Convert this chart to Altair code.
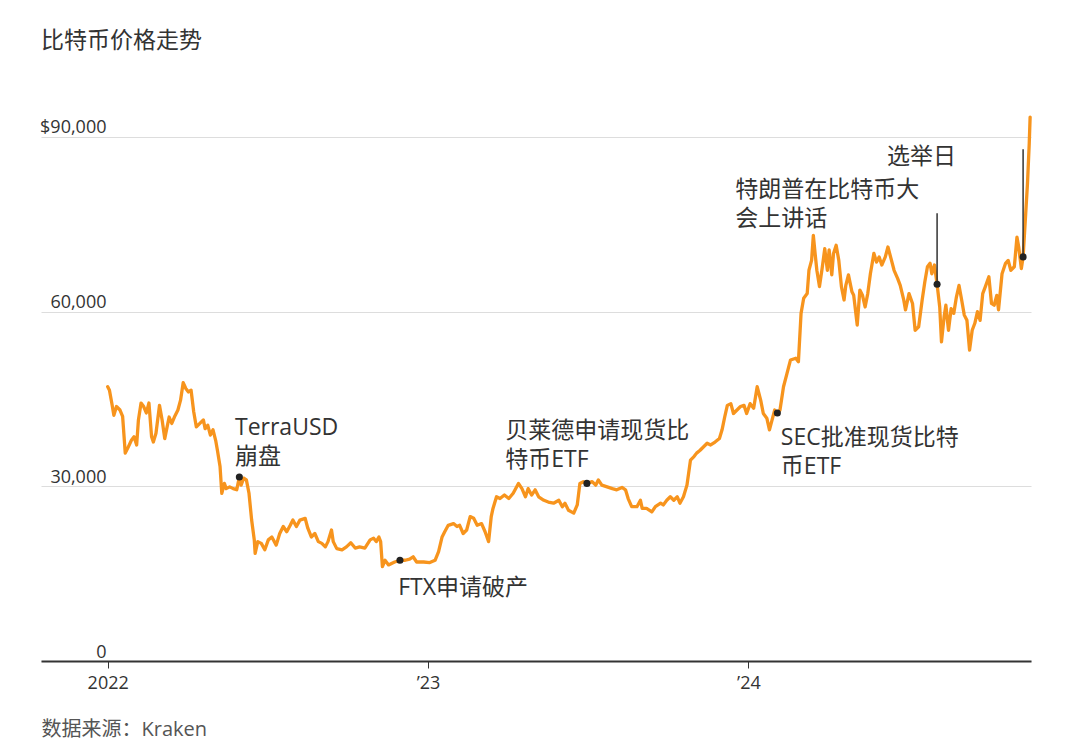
import altair as alt
import pandas as pd

FONT = "Open Sans, Noto Sans CJK SC, sans-serif"

# ---- Bitcoin price series: days after 2022-01-01 and price in USD ----
days_2022a = [0, 2, 5, 7, 10, 14, 17, 20, 23, 27,
              30, 33, 35, 38, 41, 44, 47, 50, 52, 55,
              59, 62, 65, 67, 70, 73, 76, 80, 83, 86,
              89, 92, 95, 98, 101, 105, 109, 111, 114, 117,
              120, 123, 125, 128, 130, 133, 135, 139, 143, 147,
              150, 152, 155, 158, 161, 164, 167, 168, 171, 175,
              179, 183, 187, 192, 196, 200, 204, 208, 211, 215,
              219]
price_2022a = [47100, 46500, 44000, 42200, 43700, 43100, 42000, 35700, 36600, 37900,
               38500, 37100, 41400, 44300, 43700, 42600, 44300, 38500, 37600, 39100,
               43900, 41400, 38200, 39700, 41900, 40800, 41900, 43100, 44800, 47800,
               46800, 46200, 46500, 42800, 40200, 40800, 41400, 39900, 40500, 38800,
               39700, 37900, 36200, 33400, 28800, 30500, 29600, 29900, 29600, 29400,
               31600, 30200, 31400, 31100, 28800, 24200, 20800, 18500, 20500, 20200,
               19100, 20800, 21300, 19900, 21900, 23100, 22200, 23300, 24200, 23100,
               24200]

days_2022b = [225, 228, 232, 236, 240, 244, 248, 251, 255, 257,
              261, 267, 272, 277, 282, 287, 293, 299, 303, 306,
              309, 311, 313, 316, 320, 324, 327, 333, 339, 344,
              348, 352, 360, 367, 373, 377, 381, 384, 388, 394,
              398, 401, 405, 409, 413, 417, 421, 426, 430, 434,
              437, 439, 443, 447, 452, 457, 462, 468]
price_2022b = [24500, 22800, 21300, 21900, 20500, 20200, 19600, 20500, 22500, 20500,
               19300, 19100, 19600, 20300, 19400, 19600, 19400, 20800, 21100, 20500,
               21300, 20500, 16200, 17300, 16500, 16800, 17000, 17300, 17300, 17500,
               17900, 17000, 17000, 16900, 17300, 18800, 21300, 22200, 23300, 23600,
               23100, 23300, 21900, 22500, 24800, 24500, 23300, 23600, 22200, 20500,
               24800, 26200, 28200, 27900, 28500, 27900, 28800, 30500]

days_2023 = [472, 476, 479, 483, 487, 491, 497, 502, 508, 514,
             518, 521, 525, 531, 535, 538, 542, 546, 552, 556,
             559, 563, 569, 575, 580, 586, 590, 593, 597, 603,
             607, 609, 614, 620, 624, 630, 633, 637, 641, 645,
             649, 652, 656, 660, 664, 668, 671, 675, 679, 683,
             687, 692, 697, 700, 703]
price_2023 = [29600, 28200, 29600, 28500, 29400, 28200, 27600, 27300, 27100, 27600,
              26500, 27100, 25900, 25400, 26800, 30500, 30800, 30500, 30800, 30200,
              31100, 30200, 29900, 29600, 29400, 29800, 29400, 27900, 26500, 26500,
              27600, 26200, 26200, 25600, 26500, 27100, 26800, 27600, 28200, 27600,
              28200, 27100, 28200, 30200, 34500, 35100, 35700, 36200, 36800, 37400,
              37100, 37600, 38200, 39700, 41900]

days_2024a = [706, 710, 713, 717, 721, 725, 728, 732, 736, 740,
              744, 747, 751, 754, 757, 760, 763, 766, 770, 774,
              778, 784, 787, 790, 793, 797, 799, 802, 804, 806,
              808, 811, 814, 817, 820, 822, 825, 827, 830, 833,
              836, 839, 841, 844, 848, 850, 854, 857, 860, 863,
              866, 869, 873, 876, 879, 882, 886, 889, 892, 896,
              900, 903]
price_2024a = [43900, 44200, 42500, 43100, 43700, 43900, 42500, 44200, 43400, 47100,
               44800, 42500, 41700, 39700, 41400, 43100, 42600, 43100, 47100, 49400,
               51700, 52000, 51400, 59700, 62300, 63100, 67100, 68800, 73100, 70000,
               67100, 64300, 67400, 70800, 67100, 70600, 66300, 70000, 71400, 68800,
               64300, 62000, 64500, 66300, 63400, 62800, 57700, 63700, 62800, 60800,
               63100, 66500, 70000, 68500, 69400, 68000, 69400, 71100, 69400, 67100,
               65700, 64500]

days_2024b = [907, 909, 913, 917, 920, 924, 928, 931, 934, 937,
              939, 942, 945, 948, 950, 953, 955, 958, 961, 964,
              967, 970, 973, 976, 979, 982, 985, 988, 991, 994,
              997, 1000, 1004, 1007, 1010, 1013, 1015, 1019, 1023, 1026,
              1029, 1033, 1036, 1038, 1041, 1043, 1046, 1048, 1050, 1051]
price_2024b = [62000, 60300, 63100, 61400, 56800, 57400, 62000, 65100, 67700, 68300,
               66500, 68000, 64700, 60800, 54800, 59100, 61100, 56800, 60500, 59700,
               62500, 64500, 62000, 59400, 58500, 53400, 56800, 58000, 60000, 58500,
               63100, 64300, 66000, 61400, 61100, 62800, 60300, 66500, 68300, 68800,
               67100, 67700, 72800, 71100, 67400, 69400, 76900, 82000, 88900, 93400]

days = days_2022a + days_2022b + days_2023 + days_2024a + days_2024b
prices = price_2022a + price_2022b + price_2023 + price_2024a + price_2024b
assert len(days) == len(prices)

# ---- events (dots) ----
event_days = [150, 333, 546, 763, 945, 1043]
event_prices = [31600, 17300, 30500, 42600, 64700, 69400]

# ---- annotation labels (anchor = first text line) ----
label_text = ["TerraUSD\n崩盘", "FTX申请破产", "贝莱德申请现货比\n特币ETF",
              "SEC批准现货比特\n币ETF", "特朗普在比特币大\n会上讲话", "选举日"]
label_days = [145, 331, 453, 767, 715, 888]
label_prices = [40000, 12600, 39500, 38300, 80900, 86600]

# ---- leader lines ----
leader_days = [945, 1043]
leader_low = [64700, 69400]
leader_high = [76900, 87900]

y_ticks = [0, 30000, 60000, 90000]
x_tick_years = [2022, 2023, 2024]

base_date = pd.Timestamp("2022-01-01")


def to_date(d):
    return (base_date + pd.Timedelta(days=d)).strftime("%Y-%m-%d")


price_df = pd.DataFrame({"date": [to_date(d) for d in days], "price": prices})
event_df = pd.DataFrame({"date": [to_date(d) for d in event_days], "price": event_prices})
label_df = pd.DataFrame({"date": [to_date(d) for d in label_days], "price": label_prices,
                         "label": label_text})
leader_df = pd.DataFrame({"date": [to_date(d) for d in leader_days], "price": leader_low,
                          "price_top": leader_high})

x_scale = alt.Scale(type="utc", nice=False,
                    domain=[alt.DateTime(year=2021, month=10, date=17, utc=True),
                            alt.DateTime(year=2024, month=11, date=18, utc=True)])
y_scale = alt.Scale(domain=[0, 96000], nice=False)

x_axis = alt.Axis(
    values=[alt.DateTime(year=y, month=1, date=1, utc=True) for y in x_tick_years],
    labelExpr="utcFormat(datum.value, '%Y') == '2022' ? '2022' : '\u2019' + utcFormat(datum.value, '%y')",
    title="数据来源：Kraken",
    titleAnchor="start", titleAlign="left", titleX=0, titleY=68, titleBaseline="middle",
    titleFontSize=20, titleFontWeight="normal", titleColor="#555555",
    domainColor="#333333", domainWidth=2,
    tickColor="#333333", tickSize=7, tickWidth=1,
    labelFontSize=18, labelColor="#333333", labelPadding=6,
    labelFlush=False, labelOverlap=False, grid=False,
)
y_axis = alt.Axis(
    values=y_ticks,
    labelExpr="datum.value == 90000 ? '$90,000' : format(datum.value, ',')",
    title=None, domain=False, ticks=False, tickSize=0,
    labelAlign="right", labelPadding=-65, labelBaseline="alphabetic", labelOffset=-4,
    labelFontSize=18, labelColor="#333333", labelFlush=False,
    grid=True, gridColor="#dddddd", gridWidth=1,
)

x_enc = alt.X("date:T", scale=x_scale, axis=x_axis)
y_enc = alt.Y("price:Q", scale=y_scale, axis=y_axis)

line = alt.Chart(price_df).mark_line(
    color="#f7941d", strokeWidth=3.3, strokeJoin="round", strokeCap="round"
).encode(x=x_enc, y=y_enc)

rules = alt.Chart(leader_df).mark_rule(color="#333333", strokeWidth=1.5).encode(
    x=x_enc, y=y_enc, y2="price_top:Q"
)

dots = alt.Chart(event_df).mark_circle(color="#222222", size=50, opacity=1).encode(
    x=x_enc, y=y_enc
)

labels = alt.Chart(label_df).mark_text(
    align="left", baseline="middle", fontSize=23, lineHeight=29, lineBreak="\n",
    color="#333333"
).encode(x=x_enc, y=y_enc, text="label:N")

chart = alt.layer(line, rules, dots, labels).properties(
    width=990,
    height=559,
    title=alt.TitleParams(
        "比特币价格走势", anchor="start", frame="group", fontSize=23,
        fontWeight="normal", color="#333333", offset=38, baseline="middle"
    ),
    padding={"left": 33, "top": 94, "right": 30, "bottom": 85},
    autosize=alt.AutoSizeParams(type="none"),
).configure(font=FONT).configure_view(strokeWidth=0)

chart.save("out.html", embed_options={"renderer": "svg", "actions": False})
